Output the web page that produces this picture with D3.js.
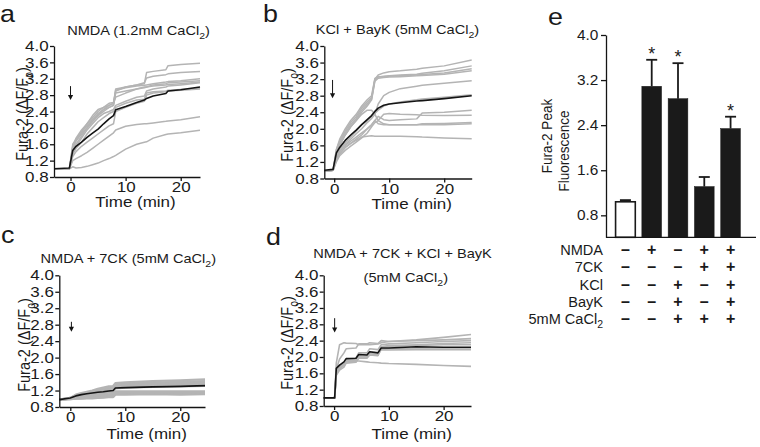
<!DOCTYPE html>
<html><head><meta charset="utf-8">
<script src="https://cdn.jsdelivr.net/npm/d3@7/dist/d3.min.js"></script>
<style>
body{margin:0;background:#fff;}
text{font-family:"Liberation Sans",Arial,Helvetica,sans-serif;fill:#1a1a1a;}
</style></head><body>
<svg id="c" width="760" height="447"></svg>
<script>
// ---------------- DATA ----------------
const yTicksTrace = [0.8, 1.2, 1.6, 2.0, 2.4, 2.8, 3.2, 3.6, 4.0];
const xTicksTrace = [0, 10, 20];

// Panel a: NMDA (1.2mM CaCl2)
const timeA = [-3, -0.2, 0.4, 1, 2, 3, 4, 5, 6, 7, 7.8, 8.2, 10, 12, 13.4, 13.8, 15, 17.3, 17.7, 20, 23.5];
const meanA = [1.0, 1.02, 1.45, 1.55, 1.65, 1.77, 1.87, 1.97, 2.1, 2.22, 2.3, 2.44, 2.52, 2.62, 2.68, 2.72, 2.78, 2.84, 2.9, 2.93, 3.0];
const cellA1 = [1.0, 1.0, 1.6, 1.72, 1.9, 2.1, 2.3, 2.45, 2.5, 2.55, 2.6, 2.95, 3.0, 3.05, 3.08, 3.35, 3.38, 3.42, 3.52, 3.55, 3.58];
const cellA2 = [1.0, 1.0, 1.55, 1.75, 1.95, 2.1, 2.25, 2.4, 2.5, 2.6, 2.62, 2.9, 3.0, 3.05, 3.1, 3.22, 3.26, 3.3, 3.32, 3.35, 3.38];
const cellA3 = [1.0, 1.0, 1.5, 1.68, 1.85, 2.0, 2.2, 2.35, 2.45, 2.5, 2.55, 2.92, 2.98, 3.02, 3.04, 3.05, 3.08, 3.12, 3.13, 3.15, 3.2];
const cellA4 = [1.0, 1.0, 1.45, 1.6, 1.8, 2.0, 2.15, 2.3, 2.45, 2.55, 2.6, 2.75, 2.85, 2.95, 3.0, 3.0, 3.05, 3.08, 3.1, 3.12, 3.15];
const cellA5 = [1.0, 1.0, 1.5, 1.7, 1.9, 2.05, 2.2, 2.3, 2.4, 2.5, 2.55, 2.85, 2.9, 2.95, 2.98, 3.0, 3.02, 3.05, 3.06, 3.08, 3.12];
const cellA6 = [1.0, 1.0, 1.4, 1.55, 1.75, 1.95, 2.1, 2.25, 2.35, 2.4, 2.45, 2.55, 2.65, 2.75, 2.78, 2.9, 2.95, 3.0, 3.02, 3.05, 3.1];
const cellA7 = [1.0, 1.0, 1.35, 1.5, 1.65, 1.85, 2.0, 2.15, 2.25, 2.35, 2.4, 2.5, 2.6, 2.68, 2.7, 2.85, 2.88, 2.9, 2.92, 2.94, 2.97];
const cellA8 = [1.0, 1.0, 1.3, 1.42, 1.55, 1.65, 1.75, 1.85, 1.95, 2.05, 2.1, 2.4, 2.5, 2.6, 2.65, 2.8, 2.85, 2.88, 2.9, 2.92, 2.95];
const cellA9 = [1.0, 1.0, 1.2, 1.25, 1.32, 1.4, 1.5, 1.6, 1.7, 1.8, 1.88, 1.95, 2.04, 2.08, 2.1, 2.1, 2.12, 2.16, 2.17, 2.2, 2.27];
const cellA10 = [1.0, 1.0, 1.05, 1.02, 1.03, 1.06, 1.1, 1.14, 1.2, 1.25, 1.3, 1.33, 1.48, 1.6, 1.65, 1.66, 1.75, 1.84, 1.85, 1.88, 1.94];
const arrowA = [0, 3.02, 2.68];

// Panel b: KCl + BayK (5mM CaCl2)
const timeB = [-1.8, -0.2, 0.4, 1, 2, 3, 4, 5, 6, 6.8, 7.4, 8, 9, 10, 12, 15, 16, 20, 25];
const meanB = [1.0, 1.02, 1.42, 1.55, 1.72, 1.85, 1.97, 2.1, 2.22, 2.32, 2.42, 2.5, 2.57, 2.6, 2.63, 2.67, 2.68, 2.73, 2.8];
const cellB1 = [0.98, 1.0, 1.5, 1.7, 1.95, 2.15, 2.3, 2.5, 2.65, 2.75, 3.2, 3.3, 3.35, 3.38, 3.4, 3.44, 3.46, 3.52, 3.66];
const cellB2 = [0.98, 1.0, 1.45, 1.65, 1.9, 2.1, 2.25, 2.45, 2.6, 2.72, 3.18, 3.25, 3.27, 3.28, 3.3, 3.32, 3.34, 3.4, 3.52];
const cellB3 = [0.98, 1.0, 1.5, 1.75, 2.0, 2.2, 2.35, 2.55, 2.7, 2.8, 3.22, 3.26, 3.26, 3.27, 3.28, 3.3, 3.31, 3.35, 3.45];
const cellB4 = [0.98, 1.0, 1.4, 1.6, 1.85, 2.05, 2.2, 2.4, 2.55, 2.7, 3.15, 3.22, 3.24, 3.25, 3.26, 3.28, 3.29, 3.32, 3.4];
const cellB5 = [0.98, 1.0, 1.3, 1.45, 1.6, 1.75, 1.88, 2.0, 2.15, 2.25, 2.35, 2.6, 2.8, 2.88, 2.97, 3.03, 3.05, 3.1, 3.16];
const cellB6 = [0.98, 1.0, 1.35, 1.5, 1.65, 1.8, 1.95, 2.1, 2.2, 2.3, 2.38, 2.45, 2.55, 2.6, 2.65, 2.7, 2.72, 2.76, 2.82];
const cellB7 = [0.98, 1.0, 1.25, 1.4, 1.55, 1.65, 1.75, 1.85, 2.0, 2.1, 2.2, 2.3, 2.22, 2.2, 2.22, 2.24, 2.38, 2.4, 2.45];
const cellB8 = [0.98, 1.0, 1.2, 1.35, 1.48, 1.58, 1.68, 1.78, 1.9, 2.05, 2.15, 2.2, 2.35, 2.37, 2.35, 2.34, 2.33, 2.32, 2.33];
const cellB9 = [0.98, 1.0, 1.4, 1.6, 1.85, 2.05, 2.2, 2.35, 2.45, 2.45, 2.35, 2.2, 2.12, 2.1, 2.1, 2.1, 2.12, 2.13, 2.15];
const cellB10 = [0.98, 1.0, 1.3, 1.45, 1.6, 1.7, 1.8, 1.9, 2.0, 2.1, 2.2, 2.12, 2.1, 2.1, 2.1, 2.1, 2.1, 2.1, 2.12];
const cellB11 = [0.98, 1.0, 1.25, 1.4, 1.55, 1.65, 1.72, 1.8, 1.82, 1.83, 1.82, 1.82, 1.82, 1.82, 1.82, 1.81, 1.8, 1.78, 1.76];
const arrowB = [-0.3, 3.18, 2.74];

// Panel c: NMDA + 7CK (5mM CaCl2)
const timeC = [-2, 0, 1, 2, 3, 4, 5, 6, 7, 7.8, 8.2, 10, 15, 20, 24.5];
const meanC = [0.98, 1.02, 1.07, 1.1, 1.12, 1.14, 1.16, 1.17, 1.19, 1.2, 1.26, 1.27, 1.29, 1.3, 1.32];
const cellC1 = [0.98, 1.02, 1.1, 1.14, 1.17, 1.2, 1.24, 1.27, 1.3, 1.31, 1.38, 1.4, 1.43, 1.45, 1.47];
const cellC2 = [0.98, 1.02, 1.08, 1.12, 1.15, 1.18, 1.22, 1.25, 1.28, 1.29, 1.35, 1.37, 1.39, 1.41, 1.43];
const cellC3 = [0.98, 1.02, 1.07, 1.11, 1.14, 1.16, 1.2, 1.22, 1.25, 1.26, 1.33, 1.34, 1.36, 1.38, 1.4];
const cellC4 = [0.98, 1.01, 1.06, 1.09, 1.12, 1.14, 1.17, 1.2, 1.22, 1.23, 1.3, 1.32, 1.34, 1.35, 1.37];
const cellC5 = [0.98, 1.01, 1.05, 1.08, 1.1, 1.12, 1.14, 1.16, 1.18, 1.19, 1.25, 1.27, 1.29, 1.3, 1.31];
const cellC6 = [0.98, 1.0, 1.04, 1.06, 1.08, 1.1, 1.12, 1.13, 1.15, 1.16, 1.18, 1.18, 1.18, 1.18, 1.18];
const cellC7 = [0.98, 1.0, 1.03, 1.05, 1.06, 1.08, 1.09, 1.1, 1.11, 1.12, 1.16, 1.16, 1.16, 1.16, 1.16];
const cellC8 = [0.98, 1.0, 1.02, 1.03, 1.04, 1.05, 1.06, 1.07, 1.08, 1.08, 1.14, 1.14, 1.14, 1.14, 1.14];
const cellC9 = [0.98, 0.99, 1.0, 1.01, 1.02, 1.02, 1.03, 1.04, 1.05, 1.05, 1.12, 1.12, 1.12, 1.12, 1.12];
const cellC10 = [0.98, 0.99, 1.0, 1.0, 1.01, 1.01, 1.02, 1.03, 1.04, 1.04, 1.1, 1.1, 1.11, 1.1, 1.11];
const arrowC = [0.2, 2.87, 2.63];

// Panel d: NMDA + 7CK + KCl + BayK (5mM CaCl2)
const timeD = [-1.9, 0.1, 0.4, 1, 1.8, 2.2, 4, 4.5, 6, 6.5, 8, 8.6, 10, 15, 20, 25];
const meanD = [1.0, 1.0, 1.72, 1.8, 1.88, 1.96, 1.97, 2.06, 2.05, 2.13, 2.1, 2.22, 2.22, 2.25, 2.24, 2.24];
const cellD1 = [1.0, 1.0, 1.85, 2.3, 2.35, 2.34, 2.33, 2.3, 2.3, 2.3, 2.32, 2.35, 2.38, 2.42, 2.48, 2.55];
const cellD2 = [1.0, 1.0, 1.7, 1.95, 2.1, 2.2, 2.22, 2.32, 2.32, 2.35, 2.33, 2.4, 2.38, 2.4, 2.42, 2.45];
const cellD3 = [1.0, 1.0, 1.6, 1.75, 1.85, 1.95, 1.97, 2.1, 2.1, 2.2, 2.18, 2.3, 2.32, 2.35, 2.38, 2.4];
const cellD4 = [1.0, 1.0, 1.65, 1.78, 1.85, 1.92, 1.94, 2.05, 2.05, 2.12, 2.1, 2.25, 2.28, 2.3, 2.33, 2.35];
const cellD5 = [1.0, 1.0, 1.6, 1.7, 1.8, 1.9, 1.9, 2.0, 2.0, 2.08, 2.05, 2.25, 2.26, 2.28, 2.3, 2.3];
const cellD6 = [1.0, 1.0, 1.55, 1.68, 1.75, 1.85, 1.87, 1.97, 1.97, 2.05, 2.03, 2.2, 2.2, 2.22, 2.22, 2.22];
const cellD7 = [1.0, 1.0, 1.58, 1.72, 1.8, 1.9, 1.9, 2.0, 2.0, 2.1, 2.05, 2.18, 2.17, 2.18, 2.18, 2.18];
const cellD8 = [1.0, 1.0, 1.65, 1.8, 1.85, 1.88, 1.9, 1.9, 1.88, 1.87, 1.86, 1.85, 1.84, 1.82, 1.79, 1.77];
const arrowD = [0.1, 2.95, 2.6];

// Panel e: peak fluorescence
const groups = ["Control", "NMDA", "KCl+BayK", "NMDA+7CK", "NMDA+7CK+KCl+BayK"];
const peakMean = [1.04, 3.09, 2.87, 1.31, 2.34];
const peakErr = [0.03, 0.47, 0.63, 0.17, 0.21];
const significant = [false, true, true, false, true];
const yTicksPeak = [0.8, 1.6, 2.4, 3.2, 4.0];
const tableRows = ["NMDA", "7CK", "KCl", "BayK", "5mM CaCl_2"];
const tableSigns = [
  ["–", "+", "–", "+", "+"],
  ["–", "–", "–", "+", "+"],
  ["–", "–", "+", "–", "+"],
  ["–", "–", "+", "–", "+"],
  ["–", "–", "+", "+", "+"]
];

// ---------------- DRAWING ----------------
const svg = d3.select("#c");
const S = 1.17;
const GRAY = "#b4b4b4", INK = "#141414";

function richText(parent, str, attrs, fs) {
  const t = parent.append("text");
  Object.entries(attrs).forEach(([k, v]) => t.attr(k, v));
  t.style("font-size", fs + "px");
  const parts = str.split(/(_\w)/).filter(s => s.length);
  let shifted = false;
  parts.forEach(p => {
    if (p.startsWith("_")) {
      t.append("tspan").text(p.slice(1)).style("font-size", (fs * 0.72) + "px").attr("dy", fs * 0.3);
      shifted = true;
    } else {
      const ts = t.append("tspan").text(p);
      if (shifted) { ts.attr("dy", -fs * 0.3); shifted = false; }
    }
  });
  return t;
}

function styleAxis(g, fs, s) {
  g.attr("font-family", null).attr("font-size", null).attr("color", INK);
  g.selectAll("text").style("font-size", fs + "px").attr("transform", `scale(${s},1)`);
  g.select(".domain").attr("stroke-width", 1.3);
  g.selectAll(".tick line").attr("stroke-width", 1.3);
}

function drawTracePanel(p) {
  const x = d3.scaleLinear().domain(p.xDomain).range([p.left, p.right]);
  const y = d3.scaleLinear().domain([0.8, 4.0]).range([p.bottom, p.top]);
  const g = svg.append("g");
  const line = d3.line().x((d, i) => x(p.time[i])).y(d => y(d));
  g.selectAll("path.trace").data(p.traces).join("path").attr("class", "trace")
    .attr("d", line).attr("fill", "none").attr("stroke", GRAY)
    .attr("stroke-width", p.grayWidth).attr("stroke-linejoin", "round");
  g.append("path").attr("d", line(p.mean)).attr("fill", "none")
    .attr("stroke", INK).attr("stroke-width", 1.6).attr("stroke-linejoin", "round");

  const ya = g.append("g").attr("transform", `translate(${p.left},0)`)
    .call(d3.axisLeft(y).tickValues(yTicksTrace).tickFormat(d3.format(".1f"))
      .tickSize(4).tickSizeOuter(0).tickPadding(0.6));
  styleAxis(ya, 14.5, S);
  const xa = g.append("g").attr("transform", `translate(0,${p.bottom})`)
    .call(d3.axisBottom(x).tickValues(xTicksTrace).tickSize(4).tickSizeOuter(0).tickPadding(1.2));
  styleAxis(xa, 14.5, S);

  // arrow marking addition
  const ax = x(p.arrow[0]), y0 = y(p.arrow[1]), y1 = y(p.arrow[2]);
  g.append("line").attr("x1", ax).attr("x2", ax).attr("y1", y0).attr("y2", y1 - 4)
    .attr("stroke", INK).attr("stroke-width", 1);
  g.append("path").attr("d", `M${ax - 2.6},${y1 - 5}L${ax + 2.6},${y1 - 5}L${ax},${y1}Z`).attr("fill", INK);

  // labels
  const lab = svg.append("g");
  p.titles.forEach(tt => richText(lab, tt.s, {x: 0, y: 0, "text-anchor": "middle",
    transform: `translate(${tt.x},${tt.y}) scale(1.08,1)`}, 13.5));
  richText(lab, "Time (min)", {x: 0, y: 0, "text-anchor": "middle",
    transform: `translate(${p.xlab[0]},${p.xlab[1]}) scale(${S},1)`}, 14.5);
  richText(lab, "Fura-2 (ΔF/F_o)", {x: 0, y: 0, "text-anchor": "middle",
    transform: `translate(${p.ylab[0]},${p.ylab[1]}) scale(${S},1) rotate(-90)`}, 14.5);
  lab.append("text").text(p.letter).attr("transform", `translate(${p.letterPos[0]},${p.letterPos[1]}) scale(1.12,1)`)
    .style("font-size", "24px");
}

drawTracePanel({
  time: timeA, mean: meanA, traces: [cellA1, cellA2, cellA3, cellA4, cellA5, cellA6, cellA7, cellA8, cellA9, cellA10], arrow: arrowA,
  xDomain: [-3, 23.5], left: 54, right: 200, top: 46, bottom: 177, grayWidth: 1.5,
  titles: [{s: "NMDA (1.2mM CaCl_2)", x: 138.5, y: 34.5}],
  xlab: [135.5, 207], ylab: [27.5, 114], letter: "a", letterPos: [0, 22]
});
drawTracePanel({
  time: timeB, mean: meanB, traces: [cellB1, cellB2, cellB3, cellB4, cellB5, cellB6, cellB7, cellB8, cellB9, cellB10, cellB11], arrow: arrowB,
  xDomain: [-1.8, 25], left: 324.3, right: 471.7, top: 46, bottom: 178.5, grayWidth: 1.5,
  titles: [{s: "KCl + BayK (5mM CaCl_2)", x: 397.5, y: 34}],
  xlab: [411.7, 209], ylab: [292.5, 115], letter: "b", letterPos: [263, 22]
});
drawTracePanel({
  time: timeC, mean: meanC, traces: [cellC1, cellC2, cellC3, cellC4, cellC5, cellC6, cellC7, cellC8, cellC9, cellC10], arrow: arrowC,
  xDomain: [-2, 24.5], left: 59.3, right: 205, top: 275.3, bottom: 407, grayWidth: 2.2,
  titles: [{s: "NMDA + 7CK (5mM CaCl_2)", x: 128.3, y: 262.7}],
  xlab: [146.7, 439], ylab: [29.5, 345], letter: "c", letterPos: [1, 243]
});
drawTracePanel({
  time: timeD, mean: meanD, traces: [cellD1, cellD2, cellD3, cellD4, cellD5, cellD6, cellD7, cellD8], arrow: arrowD,
  xDomain: [-1.9, 25], left: 323.7, right: 471, top: 275.3, bottom: 406, grayWidth: 1.6,
  titles: [{s: "NMDA + 7CK + KCl + BayK", x: 402.5, y: 258.3}, {s: "(5mM CaCl_2)", x: 405.8, y: 281.7}],
  xlab: [411.7, 439], ylab: [292.5, 343], letter: "d", letterPos: [266, 245]
});

// Panel e
(function () {
  const left = 606, right = 756, top = 35, bottom = 237.3;
  const y = d3.scaleLinear().domain([0.41, 4.0]).range([bottom, top]);
  const x = d3.scaleBand().domain(groups).range([609, 747]).paddingInner(0.25).paddingOuter(0.25);
  const g = svg.append("g");
  g.selectAll("rect.bar").data(groups).join("rect").attr("class", "bar")
    .attr("x", d => x(d)).attr("width", x.bandwidth())
    .attr("y", (d, i) => y(peakMean[i])).attr("height", (d, i) => bottom - y(peakMean[i]))
    .attr("fill", (d, i) => i === 0 ? "#fff" : "#1a1a1a")
    .attr("stroke", "#1a1a1a").attr("stroke-width", (d, i) => i === 0 ? 1.6 : 0.5);
  g.selectAll("line.err").data(groups).join("line").attr("class", "err")
    .attr("x1", d => x(d) + x.bandwidth() / 2).attr("x2", d => x(d) + x.bandwidth() / 2)
    .attr("y1", (d, i) => y(peakMean[i])).attr("y2", (d, i) => y(peakMean[i] + peakErr[i]))
    .attr("stroke", "#1a1a1a").attr("stroke-width", 1.8);
  g.selectAll("line.cap").data(groups).join("line").attr("class", "cap")
    .attr("x1", d => x(d) + x.bandwidth() / 2 - 5.5).attr("x2", d => x(d) + x.bandwidth() / 2 + 5.5)
    .attr("y1", (d, i) => y(peakMean[i] + peakErr[i])).attr("y2", (d, i) => y(peakMean[i] + peakErr[i]))
    .attr("stroke", "#1a1a1a").attr("stroke-width", 1.8);
  g.selectAll("text.star").data(groups.filter((d, i) => significant[i])).join("text").attr("class", "star")
    .attr("x", d => x(d) + x.bandwidth() / 2)
    .attr("y", d => { const i = groups.indexOf(d); return y(peakMean[i] + peakErr[i]) + 0; })
    .attr("text-anchor", "middle").style("font-size", "18px").text("*");

  const ya = g.append("g").attr("transform", `translate(${left},0)`)
    .call(d3.axisLeft(y).tickValues(yTicksPeak).tickFormat(d3.format(".1f"))
      .tickSize(5).tickSizeOuter(0).tickPadding(2));
  styleAxis(ya, 14, 1.1);
  g.append("line").attr("x1", left).attr("x2", right).attr("y1", bottom).attr("y2", bottom)
    .attr("stroke", INK).attr("stroke-width", 1.3);

  // axis title (two lines)
  richText(g, "Fura-2 Peak", {x: 0, y: 0, "text-anchor": "middle",
    transform: `translate(552,136) scale(1.08,1) rotate(-90)`}, 13.5);
  richText(g, "Fluorescence", {x: 0, y: 0, "text-anchor": "middle",
    transform: `translate(569,151) scale(1.08,1) rotate(-90)`}, 13.5);

  // treatment table
  const rowY = d3.scalePoint().domain(tableRows).range([255, 324]);
  tableRows.forEach((r, ri) => {
    richText(g, r, {x: 0, y: 0, "text-anchor": "end",
      transform: `translate(603,${rowY(r)}) scale(1.04,1)`}, 14);
    tableSigns[ri].forEach((s, ci) => {
      g.append("text").attr("x", x(groups[ci]) + x.bandwidth() / 2).attr("y", rowY(r))
        .attr("text-anchor", "middle").style("font-size", "16px").style("font-weight", "bold").text(s);
    });
  });
  svg.append("text").text("e").attr("transform", "translate(548,25) scale(1.12,1)").style("font-size", "24px");
})();
</script>
</body></html>
